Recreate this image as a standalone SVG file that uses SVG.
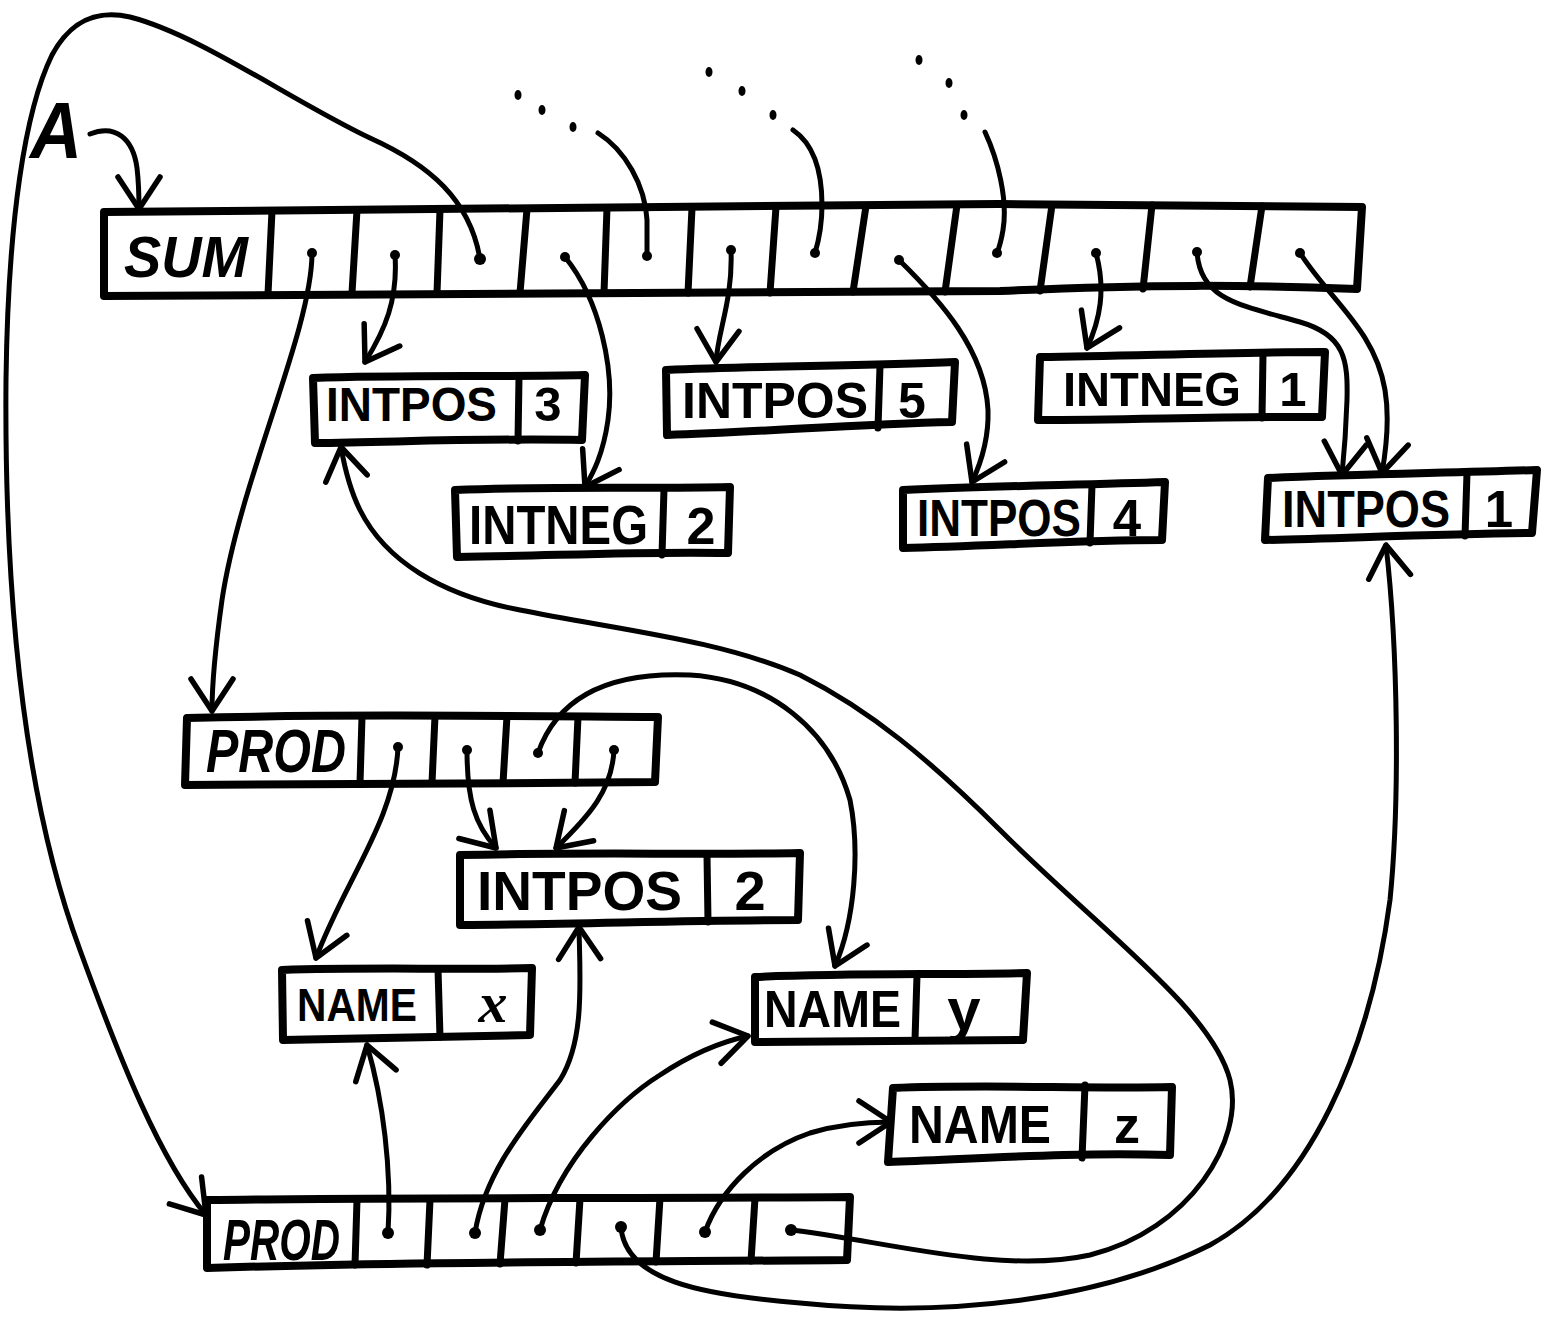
<svg xmlns="http://www.w3.org/2000/svg" width="1551" height="1325" viewBox="0 0 1551 1325">
  <style>
    .box { fill: none; stroke: #000; stroke-width: 8; stroke-linejoin: round; stroke-linecap: round; }
    .div { fill: none; stroke: #000; stroke-width: 7; stroke-linecap: round; }
    .link { fill: none; stroke: #000; stroke-width: 5; stroke-linecap: round; stroke-linejoin: round; }
    .arrow { marker-end: url(#ah); }
    .dot { fill: #000; }
    .lbl { font-family: "Liberation Sans", Arial, sans-serif; font-style: italic; font-weight: bold; fill: #000; }
    .up { font-family: "Liberation Sans", Arial, sans-serif; font-weight: bold; fill: #000; }
    .val { font-family: "Liberation Sans", Arial, sans-serif; font-weight: bold; fill: #000; text-anchor: middle; }
    .sym { font-family: "Liberation Serif", "Times New Roman", serif; font-style: italic; font-weight: bold; fill: #000; text-anchor: middle; }
  </style>
  <defs>
    <!-- open hand-drawn style arrowhead, tip at the path end -->
    <marker id="ah" markerUnits="userSpaceOnUse" orient="auto" refX="0" refY="0" markerWidth="1" markerHeight="1" overflow="visible">
      <path d="M-32,-21 L0,0 L-32,21" fill="none" stroke="#000" stroke-width="5.5" stroke-linecap="round" stroke-linejoin="round"/>
    </marker>
  </defs>

  <rect width="1551" height="1325" fill="#fff"/>

  <!-- label A pointing at the SUM record -->
  <g id="label-a">
    <text class="lbl" x="30" y="158" font-size="80" textLength="52" lengthAdjust="spacingAndGlyphs">A</text>
  </g>

  <!-- SUM record: head cell plus twelve pointer cells -->
  <g id="node-sum">
    <path class="box" d="M104,212 C400,209 700,205 1000,204 C1150,205 1300,206 1362,207 L1357,289 C1250,285 1150,284 1000,291 C700,294 400,293 104,296 Z"/>
    <path class="div" d="M272,211 L268,294 M357,210 L352,293 M440,210 L437,293 M527,209 L520,293 M607,208 L604,293 M692,208 L688,293 M776,207 L770,293 M866,206 L853,292 M957,205 L945,292 M1052,205 L1040,291 M1152,205 L1143,289 M1262,206 L1250,287"/>
    <text class="lbl" x="124" y="277" font-size="58" textLength="124" lengthAdjust="spacingAndGlyphs">SUM</text>
  </g>

  <g id="node-intpos3">
    <path class="box" d="M313,378 C400,375 500,377 585,375 L582,440 C480,438 400,442 315,443 Z"/>
    <path class="div" d="M519,377 L518,441"/>
    <text class="up" x="326" y="421" font-size="49" textLength="171" lengthAdjust="spacingAndGlyphs">INTPOS</text>
    <text class="val" x="548" y="421" font-size="49">3</text>
  </g>

  <g id="node-intneg2">
    <path class="box" d="M455,490 C550,486 650,489 730,487 L728,553 C640,551 550,556 457,557 Z"/>
    <path class="div" d="M664,489 L662,555"/>
    <text class="up" x="469" y="544" font-size="55" textLength="179" lengthAdjust="spacingAndGlyphs">INTNEG</text>
    <text class="val" x="701" y="544" font-size="52">2</text>
  </g>

  <g id="node-intpos5">
    <path class="box" d="M666,370 C760,366 860,366 955,362 L952,422 C860,424 760,432 667,435 Z"/>
    <path class="div" d="M880,366 L878,428"/>
    <text class="up" x="682" y="418" font-size="50" textLength="186" lengthAdjust="spacingAndGlyphs">INTPOS</text>
    <text class="val" x="912" y="418" font-size="50">5</text>
  </g>

  <g id="node-intneg1">
    <path class="box" d="M1040,357 C1130,356 1230,352 1325,352 L1322,417 C1230,416 1130,420 1038,420 Z"/>
    <path class="div" d="M1263,354 L1262,418"/>
    <text class="up" x="1063" y="406" font-size="49" textLength="178" lengthAdjust="spacingAndGlyphs">INTNEG</text>
    <text class="val" x="1293" y="406" font-size="49">1</text>
  </g>

  <g id="node-intpos4">
    <path class="box" d="M903,490 C990,486 1080,485 1165,482 L1162,540 C1080,540 990,546 903,548 Z"/>
    <path class="div" d="M1092,485 L1090,543"/>
    <text class="up" x="917" y="536" font-size="51" textLength="164" lengthAdjust="spacingAndGlyphs">INTPOS</text>
    <text class="val" x="1127" y="536" font-size="51">4</text>
  </g>

  <g id="node-intpos1">
    <path class="box" d="M1268,478 C1360,474 1450,473 1537,470 L1532,533 C1440,534 1350,538 1265,540 Z"/>
    <path class="div" d="M1467,473 L1465,536"/>
    <text class="up" x="1282" y="527" font-size="51" textLength="168" lengthAdjust="spacingAndGlyphs">INTPOS</text>
    <text class="val" x="1499" y="527" font-size="51">1</text>
  </g>

  <!-- first PROD record -->
  <g id="node-prod1">
    <path class="box" d="M187,718 C350,714 500,716 658,717 L655,782 C500,784 350,783 185,785 Z"/>
    <path class="div" d="M362,717 L360,783 M435,716 L432,783 M507,716 L503,783 M578,717 L575,783"/>
    <text class="lbl" x="206" y="772" font-size="61" textLength="140" lengthAdjust="spacingAndGlyphs">PROD</text>
  </g>

  <g id="node-intpos2">
    <path class="box" d="M460,855 C580,852 700,855 800,853 L798,920 C700,920 580,924 460,925 Z"/>
    <path class="div" d="M707,855 L708,922"/>
    <text class="up" x="477" y="910" font-size="56" textLength="205" lengthAdjust="spacingAndGlyphs">INTPOS</text>
    <text class="val" x="750" y="910" font-size="56">2</text>
  </g>

  <g id="node-namex">
    <path class="box" d="M282,970 C370,967 450,970 532,968 L530,1035 C450,1036 370,1038 283,1040 Z"/>
    <path class="div" d="M438,969 L440,1037"/>
    <text class="up" x="297" y="1021" font-size="46" textLength="120" lengthAdjust="spacingAndGlyphs">NAME</text>
    <text class="sym" x="493" y="1022" font-size="58">x</text>
  </g>

  <g id="node-namey">
    <path class="box" d="M755,977 C850,973 940,975 1027,973 L1023,1040 C940,1040 850,1042 755,1042 Z"/>
    <path class="div" d="M917,975 L915,1040"/>
    <text class="up" x="764" y="1027" font-size="51" textLength="137" lengthAdjust="spacingAndGlyphs">NAME</text>
    <text class="val" x="964" y="1030" font-size="60">y</text>
  </g>

  <g id="node-namez">
    <path class="box" d="M893,1088 C990,1084 1080,1089 1172,1087 L1170,1155 C1080,1152 990,1158 888,1162 Z"/>
    <path class="div" d="M1085,1085 L1082,1158"/>
    <text class="up" x="909" y="1143" font-size="53" textLength="142" lengthAdjust="spacingAndGlyphs">NAME</text>
    <text class="val" x="1127" y="1143" font-size="52">z</text>
  </g>

  <!-- second PROD record: head cell plus six pointer cells -->
  <g id="node-prod2">
    <path class="box" d="M207,1200 C400,1197 600,1199 850,1197 L847,1260 C600,1262 400,1262 207,1268 Z"/>
    <path class="div" d="M357,1200 L355,1265 M430,1200 L427,1265 M505,1199 L500,1264 M580,1199 L576,1263 M660,1198 L656,1262 M755,1198 L751,1261"/>
    <text class="lbl" x="223" y="1260" font-size="58" textLength="117" lengthAdjust="spacingAndGlyphs">PROD</text>
  </g>

  <!-- pointers -->
  <g id="connectors">
    <!-- A -> SUM -->
    <path class="link arrow" d="M90,134 C115,124 133,138 137,168 C139,185 139,198 139,209"/>

    <!-- dotted continuations entering SUM cells -->
    <ellipse class="dot" cx="518" cy="95" rx="3.5" ry="5"/>
    <ellipse class="dot" cx="542" cy="110" rx="3.5" ry="5"/>
    <ellipse class="dot" cx="573" cy="127" rx="3.5" ry="5"/>
    <path class="link" d="M598,133 C625,150 645,185 647,220 L647,256"/>
    <circle class="dot" cx="647" cy="256" r="5"/>

    <ellipse class="dot" cx="709" cy="72" rx="3.5" ry="5"/>
    <ellipse class="dot" cx="742" cy="91" rx="3.5" ry="5"/>
    <ellipse class="dot" cx="773" cy="115" rx="3.5" ry="5"/>
    <path class="link" d="M793,130 C815,145 822,175 822,205 C822,225 818,243 815,253"/>
    <circle class="dot" cx="815" cy="253" r="5"/>

    <ellipse class="dot" cx="919" cy="60" rx="3.5" ry="5"/>
    <ellipse class="dot" cx="949" cy="83" rx="3.5" ry="5"/>
    <ellipse class="dot" cx="964" cy="115" rx="3.5" ry="5"/>
    <path class="link" d="M985,132 C998,160 1008,200 1003,230 C1001,242 999,248 997,253"/>
    <circle class="dot" cx="997" cy="253" r="5"/>

    <!-- loop from the third SUM cell back to the second PROD record -->
    <circle class="dot" cx="480" cy="259" r="6"/>
    <path class="link arrow" d="M480,259 C470,200 430,165 370,138 C290,100 200,35 130,17 C95,9 70,22 52,55 C25,110 8,220 6,380 C4,620 28,810 80,950 C120,1060 160,1160 206,1215"/>

    <!-- SUM cells down to their operands -->
    <circle class="dot" cx="312" cy="253" r="5"/>
    <path class="link arrow" d="M312,253 C312,330 240,480 222,600 C215,650 212,680 212,711"/>
    <circle class="dot" cx="395" cy="255" r="5"/>
    <path class="link arrow" d="M395,255 C398,300 385,330 365,362"/>
    <circle class="dot" cx="565" cy="257" r="5"/>
    <path class="link arrow" d="M565,257 C600,300 615,370 608,420 C603,455 593,473 585,487"/>
    <circle class="dot" cx="731" cy="250" r="5"/>
    <path class="link arrow" d="M731,250 C733,300 718,330 716,362"/>
    <circle class="dot" cx="899" cy="260" r="5"/>
    <path class="link arrow" d="M899,260 C940,300 985,350 988,410 C989,440 980,465 972,482"/>
    <circle class="dot" cx="1096" cy="253" r="5"/>
    <path class="link arrow" d="M1096,253 C1106,290 1100,320 1087,348"/>
    <circle class="dot" cx="1197" cy="252" r="5"/>
    <path class="link arrow" d="M1197,252 C1200,300 1240,305 1300,322 C1345,335 1348,360 1347,400 C1346,430 1344,455 1342,475"/>
    <circle class="dot" cx="1300" cy="253" r="5"/>
    <path class="link arrow" d="M1300,253 C1330,300 1375,330 1385,390 C1390,420 1386,450 1382,473"/>

    <!-- first PROD record cells -->
    <circle class="dot" cx="398" cy="747" r="5"/>
    <path class="link arrow" d="M398,747 C395,820 345,880 316,958"/>
    <circle class="dot" cx="467" cy="750" r="5"/>
    <path class="link arrow" d="M467,750 C467,800 475,825 496,848"/>
    <circle class="dot" cx="538" cy="753" r="5"/>
    <path class="link arrow" d="M538,753 C560,690 620,672 690,675 C770,680 830,730 850,800 C860,850 855,920 835,966"/>
    <circle class="dot" cx="614" cy="750" r="5"/>
    <path class="link arrow" d="M614,750 C612,790 590,815 556,848"/>

    <!-- second PROD record cells -->
    <circle class="dot" cx="388" cy="1233" r="6"/>
    <path class="link arrow" d="M388,1233 C392,1170 383,1100 367,1045"/>
    <circle class="dot" cx="475" cy="1233" r="6"/>
    <path class="link arrow" d="M475,1233 C485,1170 530,1120 560,1080 C585,1040 580,980 579,927"/>
    <circle class="dot" cx="540" cy="1230" r="6"/>
    <path class="link arrow" d="M540,1230 C560,1160 620,1100 660,1075 C690,1055 720,1042 748,1036"/>
    <circle class="dot" cx="621" cy="1227" r="6"/>
    <path class="link arrow" d="M621,1227 C625,1280 700,1295 800,1303 C950,1318 1100,1300 1210,1245 C1310,1190 1370,1050 1390,900 C1400,800 1398,650 1386,545"/>
    <circle class="dot" cx="705" cy="1232" r="6"/>
    <path class="link arrow" d="M705,1232 C720,1190 760,1150 810,1133 C840,1124 870,1122 891,1122"/>
    <circle class="dot" cx="791" cy="1230" r="6"/>
    <path class="link arrow" d="M791,1230 C880,1240 1000,1275 1090,1255 C1190,1230 1245,1140 1230,1080 C1212,1010 1100,930 1000,830 C930,760 870,710 800,675 C720,640 620,630 520,610 C440,595 385,560 360,510 C350,490 345,470 341,447"/>
  </g>
</svg>
